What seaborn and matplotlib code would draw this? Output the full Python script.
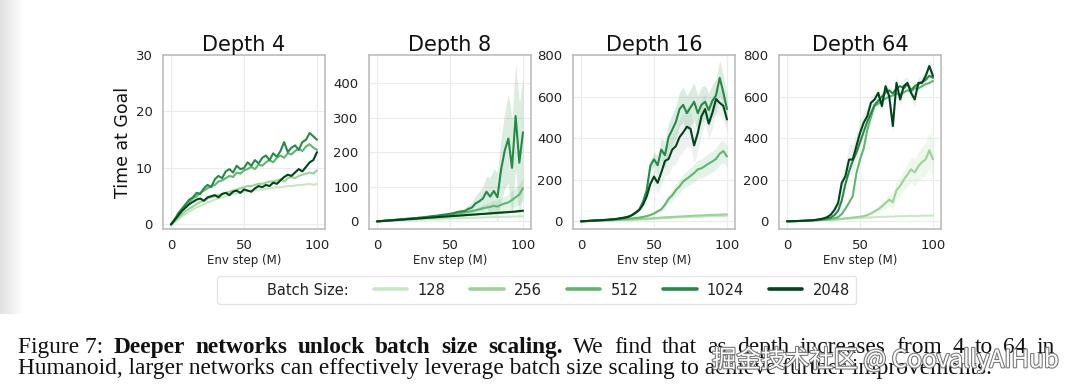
import numpy as np
import pandas as pd
import seaborn as sns
import matplotlib.pyplot as plt
from matplotlib.lines import Line2D
import matplotlib.patheffects as pe

sns.set_theme(style="whitegrid")
plt.rcParams['font.family'] = ['DejaVu Sans']

steps = np.linspace(0, 100, 41)
batch_sizes = ['128', '256', '512', '1024', '2048']
colors = ['#c7e9c0', '#98d594', '#5cb86b', '#238b45', '#00441b']
titles = ['Depth 4', 'Depth 8', 'Depth 16', 'Depth 64']

# Depth 4
d4_128 = [0, 0.4, 0.9, 1.4, 1.9, 2.3, 2.7, 3.0, 3.3, 3.6, 3.9, 4.1, 4.4, 4.6, 4.8, 5.0, 5.2, 5.4, 5.5, 5.6, 5.8,
          5.9, 6.0, 6.1, 6.2, 6.2, 6.3, 6.4, 6.5, 6.6, 6.6, 6.7, 6.8, 6.8, 6.9, 7.0, 7.0, 7.1, 7.2, 7.0, 7.2]
d4_256 = [0, 0.6, 1.2, 1.8, 2.4, 2.8, 3.2, 3.6, 4.0, 4.2, 4.6, 4.8, 5.0, 5.2, 5.4, 5.6, 5.8, 6.0, 6.2, 6.4, 6.6,
          6.8, 6.8, 7.0, 7.2, 7.2, 7.4, 7.6, 7.6, 7.8, 8.0, 7.6, 8.2, 8.4, 8.2, 8.6, 8.8, 9.0, 9.2, 9.0, 9.6]
d4_512 = [0, 0.8, 1.8, 2.6, 3.4, 4.0, 4.6, 5.0, 5.6, 6.0, 6.4, 6.8, 7.0, 7.6, 7.8, 8.2, 8.6, 8.4, 9.2, 9.0, 9.6,
          9.8, 10.2, 9.8, 10.6, 10.4, 11.0, 11.4, 11.0, 11.8, 12.2, 11.8, 12.6, 12.4, 13.0, 13.4, 13.0, 13.8, 14.2, 13.6, 13.2]
d4_1024 = [0, 0.9, 2.0, 2.8, 3.6, 4.4, 4.8, 5.6, 5.4, 6.4, 7.0, 6.6, 8.0, 8.6, 8.2, 9.4, 9.8, 9.2, 10.4, 9.8, 10.0,
           11.0, 10.4, 11.4, 10.8, 11.8, 12.2, 11.4, 12.6, 12.0, 13.0, 14.6, 12.8, 13.6, 14.0, 13.2, 14.6, 15.0, 16.2, 15.6, 15.0]
d4_2048 = [0, 0.8, 1.6, 2.4, 3.0, 3.6, 4.0, 4.4, 4.6, 4.2, 4.8, 5.0, 5.2, 4.8, 5.4, 5.6, 5.2, 5.8, 6.0, 5.6, 6.2,
           6.0, 5.8, 6.4, 6.8, 6.6, 7.0, 6.8, 7.4, 7.2, 7.8, 8.4, 8.8, 8.6, 9.2, 9.8, 9.4, 10.2, 11.0, 11.4, 12.8]

# Depth 8
d8_128 = [0, 0.5, 1, 1.5, 2, 2.4, 2.8, 3.2, 3.6, 4, 4.4, 4.8, 5.2, 5.6, 6, 6.4, 6.8, 7.2, 7.6, 8, 8.4,
          8.8, 9.1, 9.4, 9.8, 10.2, 10.5, 10.8, 11.2, 11.5, 11.8, 12.2, 12.5, 12.8, 13.1, 13.4, 13.8, 14.1, 14.4, 14.7, 15]
d8_256 = [0, 0.7, 1.4, 2.1, 2.8, 3.5, 4.2, 5, 5.8, 6.5, 7.2, 8, 8.8, 9.5, 10.2, 11, 11.8, 12.5, 13.2, 14, 14.8,
          15.5, 16.2, 17, 17.8, 18.5, 19.2, 20, 20.8, 21.5, 22.2, 23, 23.8, 24.5, 25.2, 26, 26.8, 27.5, 28.2, 29, 30]
d8_512 = [0, 0.9, 1.8, 2.7, 3.6, 4.5, 5.4, 6.3, 7.2, 8.1, 9, 10, 11, 12, 13, 14, 15, 16, 17.5, 19, 20,
          21.5, 23, 24, 26, 28, 30, 32, 35, 38, 40, 42, 45, 43, 48, 52, 55, 62, 70, 78, 96]
d8_1024 = [0, 0.9, 1.8, 2.7, 3.6, 4.5, 5.4, 6.3, 7.2, 8.1, 9, 10, 11, 12, 13.5, 15, 16, 17.5, 19, 20.5, 22,
           24, 27, 29, 30, 36, 40, 52, 58, 66, 86, 72, 88, 70, 150, 205, 240, 155, 305, 170, 258]
d8_2048 = [0, 0.8, 1.6, 2.3, 3.0, 3.8, 4.5, 5.2, 6.0, 6.8, 7.5, 8.2, 9.0, 9.8, 10.5, 11.2, 12.0, 12.8, 13.5, 14.2, 15.0,
           15.8, 16.5, 17.2, 18.0, 18.8, 19.5, 20.2, 21.0, 21.8, 22.5, 23.2, 24.0, 24.8, 25.5, 26.2, 27.0, 27.8, 28.5, 30.0, 31.0]
d8_512_err = [0] * 24 + [3, 4, 5, 6, 8, 10, 12, 14, 16, 18, 20, 22, 24, 26, 28, 30, 32]
d8_1024_err = [0] * 20 + [3, 4, 5, 6, 8, 12, 16, 22, 28, 35, 45, 55, 65, 70, 90, 110, 130, 140, 150, 170, 160]

# Depth 16
d16_128 = [0, 0.5, 1, 1.5, 2, 2.5, 3, 3.5, 4, 4.5, 5, 5.5, 6, 6.5, 7, 7.5, 8, 9, 10, 11, 12,
           13, 14, 15, 16, 17, 18, 19, 20, 20, 21, 22, 22, 23, 24, 24, 25, 25, 26, 26, 27]
d16_256 = [0, 0.6, 1.2, 1.8, 2.4, 3, 3.6, 4.2, 4.8, 5.4, 6, 6.8, 7.5, 8.2, 9, 10, 11, 12, 13, 14, 15,
           16.5, 18, 19, 20, 21, 22, 23, 24, 25, 26, 27, 28, 28, 29, 30, 31, 31, 32, 33, 33]
d16_512 = [0, 0.8, 1.6, 2.4, 3.2, 4, 5, 6, 7, 8, 9, 10, 11, 12, 14, 16, 18, 21, 25, 30, 38,
           48, 58, 80, 108, 125, 150, 168, 192, 205, 218, 232, 250, 255, 266, 278, 288, 300, 325, 338, 312]
d16_1024 = [0, 1, 2, 3, 4, 5, 6, 7, 8.5, 10, 12, 15, 18, 22, 30, 42, 58, 95, 150, 268, 298,
            270, 345, 318, 405, 440, 478, 540, 560, 520, 548, 575, 520, 560, 575, 535, 580, 605, 690, 620, 540]
d16_2048 = [0, 1, 2, 3, 4, 5, 6, 7, 8.5, 10, 12, 15, 18, 22, 30, 42, 55, 80, 120, 180, 215,
            185, 235, 290, 300, 345, 362, 405, 428, 455, 445, 365, 425, 505, 540, 470, 522, 588, 570, 555, 490]
d16_512_err = [0] * 20 + [5, 8, 10, 15, 20, 25, 30, 32, 35, 38, 40, 42, 45, 45, 48, 50, 50, 52, 55, 55, 50]
d16_1024_err = [0] * 14 + [3, 5, 8, 12, 18, 25, 35, 45, 55, 65, 70, 75, 80, 80, 85, 85, 90, 90, 85, 85,
                           80, 80, 80, 80, 85, 80, 70]
d16_2048_err = [0] * 14 + [3, 5, 8, 12, 20, 30, 40, 50, 60, 70, 75, 80, 85, 90, 90, 95, 90, 85, 90, 80,
                           75, 70, 75, 70, 65, 70, 60]

# Depth 64
d64_128 = [0, 0.5, 1, 1.5, 2, 2.5, 3, 3.5, 4, 5, 6, 7, 8, 9, 10, 11, 12, 13, 14, 15, 16,
           17, 18, 19, 20, 21, 22, 22, 23, 23, 24, 24, 25, 25, 26, 26, 26, 27, 27, 27, 28]
d64_256 = [0, 0.5, 1, 1.5, 2, 2.5, 3, 3.5, 4, 5, 6, 7, 8, 9, 10, 12, 14, 16, 18, 20, 22,
           25, 30, 38, 48, 58, 72, 88, 104, 92, 150, 170, 200, 225, 250, 235, 265, 285, 298, 342, 298]
d64_512 = [0, 0.5, 1, 1.5, 2, 3, 4, 5, 6, 7, 8, 10, 12, 15, 20, 35, 60, 90, 120, 230, 297,
           350, 440, 500, 555, 565, 580, 590, 600, 605, 615, 610, 620, 630, 625, 640, 640, 650, 660, 665, 675]
d64_1024 = [0, 0.5, 1, 1.5, 2, 3, 4, 5, 7, 9, 11, 14, 18, 30, 50, 100, 180, 240, 290, 330, 380,
            430, 480, 520, 560, 580, 600, 620, 630, 615, 640, 650, 640, 660, 630, 650, 660, 670, 680, 700, 690]
d64_2048 = [0, 0.5, 1, 1.5, 2, 3, 4, 5, 7, 10, 14, 20, 32, 55, 88, 185, 217, 297, 297, 361, 425,
            474, 506, 570, 586, 618, 554, 650, 602, 458, 666, 586, 650, 666, 618, 586, 666, 666, 699, 747, 699]
d64_256_err = [0] * 22 + [5, 8, 12, 16, 20, 25, 30, 35, 40, 45, 50, 55, 60, 65, 70, 75, 80, 85, 90]
d64_2048_err = [0] * 12 + [5, 10, 20, 40, 60, 70, 75, 70, 60, 50, 40, 35, 30, 25, 30, 35, 30, 28, 32,
                           30, 35, 28, 30, 32, 30, 34, 30, 28, 30]

panels = [
    [d4_128, d4_256, d4_512, d4_1024, d4_2048],
    [d8_128, d8_256, d8_512, d8_1024, d8_2048],
    [d16_128, d16_256, d16_512, d16_1024, d16_2048],
    [d64_128, d64_256, d64_512, d64_1024, d64_2048],
]
bands = [
    [],
    [(2, d8_512_err), (3, d8_1024_err)],
    [(2, d16_512_err), (3, d16_1024_err), (4, d16_2048_err)],
    [(1, d64_256_err), (4, d64_2048_err)],
]
ylims = [(-0.8, 30), (-22, 482), (-37, 800), (-37, 800)]
yticks = [[0, 10, 20, 30], [0, 100, 200, 300, 400], [0, 200, 400, 600, 800], [0, 200, 400, 600, 800]]
lefts = [163, 369, 573, 779]

caption_line1 = [('Figure 7:', 'normal')] + \
    [(w, 'bold') for w in 'Deeper networks unlock batch size scaling.'.split()] + \
    [(w, 'normal') for w in 'We find that as depth increases from 4 to 64 in'.split()]
caption_line2 = 'Humanoid, larger networks can effectively leverage batch size scaling to achieve further improvements.'

fig = plt.figure(figsize=(10.8, 3.92), dpi=100)

# faint page shadow on the left edge, behind everything
shade = fig.add_axes([0, 0.2, 24 / 1080, 0.8], zorder=-5)
shade.imshow(np.linspace(0.88, 1.0, 30)[None, :], cmap='gray', vmin=0, vmax=1, aspect='auto')
shade.axis('off')

for k in range(4):
    ax = fig.add_axes([lefts[k] / 1080, 163 / 392, 162 / 1080, 174 / 392])
    rows = []
    for b, series in zip(batch_sizes, panels[k]):
        rows.append(pd.DataFrame({'step': steps, 'value': series, 'batch': b}))
    df = pd.concat(rows, ignore_index=True)
    for idx, err in bands[k]:
        v = np.array(panels[k][idx])
        e = np.array(err)
        band_color = '#9aa89d' if idx == 4 else colors[idx]
        ax.fill_between(steps, v - e, v + e, color=band_color, alpha=0.16, lw=0)
    sns.lineplot(data=df, x='step', y='value', hue='batch', hue_order=batch_sizes,
                 palette=colors, lw=1.5, errorbar=None, legend=False, ax=ax)
    ax.set_xlim(-5.5, 105.5)
    ax.set_ylim(*ylims[k])
    ax.set_xticks([0, 50, 100])
    ax.set_yticks(yticks[k])
    ax.tick_params(labelsize=9.5, pad=1.5, colors='#222222')
    ax.grid(color='#ececec', lw=0.8)
    for s in ax.spines.values():
        s.set_color('#b8b8b8')
        s.set_linewidth(1.1)
    ax.set_title(titles[k], fontsize=15, pad=3, color='#111111')
    ax.set_xlabel('Env step (M)', fontsize=8.5, labelpad=1, color='#222222')
    if k == 0:
        ax.set_ylabel('Time at Goal', fontsize=12.5, labelpad=3, color='#111111')
    else:
        ax.set_ylabel('')

handles = [Line2D([], [], color='none')] + [Line2D([], [], color=c, lw=2.6) for c in colors]
labels = ['Batch Size:'] + batch_sizes
leg = fig.legend(handles, labels, loc='center', bbox_to_anchor=(0.497, 0.26), ncol=6,
                 fontsize=10.5, frameon=True, handlelength=2.3, handletextpad=0.7,
                 columnspacing=1.7, borderpad=0.45, fancybox=True)
leg.get_frame().set_edgecolor('#dddddd')
leg.get_frame().set_linewidth(0.9)
for t in leg.get_texts():
    t.set_color('#222222')

# caption: first line justified word by word, second line left aligned
cap = fig.add_axes([0, 0, 1, 1], zorder=-1)
cap.axis('off')
serif = 'Liberation Serif'
fs = 16.8
gap = 4.5
words = []
prev = None
for w, wt in caption_line1:
    if prev is None:
        t = cap.text(18 / 1080, 1 - 358 / 392, w, family=serif, size=fs, weight=wt,
                     va='bottom', color='#111111')
    else:
        t = cap.annotate(w, xy=(1, 0), xycoords=prev, xytext=(gap, 0), textcoords='offset points',
                         family=serif, size=fs, weight=wt, va='bottom', color='#111111')
    words.append(t)
    prev = t
cap.text(18 / 1080, 1 - 379 / 392, caption_line2, family=serif, size=fs, va='bottom', color='#111111')

fig.canvas.draw()
right = words[-1].get_window_extent().x1
extra = (1055 - right) / (len(words) - 1) * 72 / fig.dpi
for t in words[1:]:
    t.xyann = (gap + extra, 0)

wm = fig.text(712 / 1080, 1 - 360 / 392, '掘金技术社区 @ CoovallyAIHub', size=17.5,
              family=['Noto Sans CJK SC', 'DejaVu Sans'], va='center', color='white', zorder=5)
wm.set_path_effects([pe.withStroke(linewidth=1.6, foreground='#7a7a7a')])

fig.savefig('out.png', dpi=100)
